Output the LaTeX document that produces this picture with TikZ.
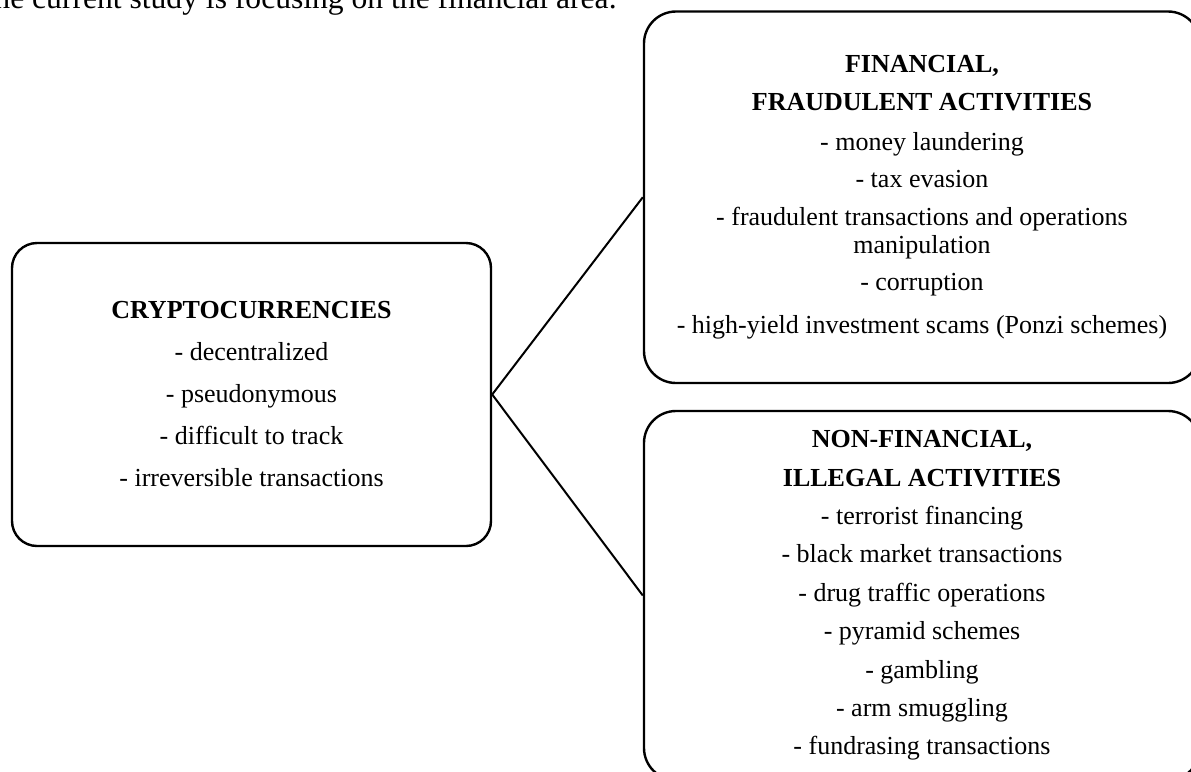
\documentclass[tikz,border=0pt]{standalone}
\usepackage{fontspec}
\setmainfont{Liberation Serif}
\usetikzlibrary{positioning}

\begin{document}
\begin{tikzpicture}[x=0.5pt,y=-0.5pt,
	kasten/.style={draw,line width=1.2pt,align=center,inner sep=0pt,
		font=\fontsize{13}{14}\selectfont},
	verbindung/.style={line width=1pt}]
	% Rahmen
	\useasboundingbox (0,0) rectangle (1191,772);
	\clip (0,0) rectangle (1191,772);
	% Text oben
	\node[anchor=base east,inner sep=0pt,font=\fontsize{15.8}{18}\selectfont] (intro) at (617,8)
		{he current study is focusing on the financial area.};
	% Kaesten
	\node[kasten,rounded corners=12.5pt,minimum width=239.5pt,minimum height=151.5pt] (crypto) at (251.5,394.5)
		{\textbf{CRYPTOCURRENCIES}\\[7pt]
		- decentralized\\[7pt]
		- pseudonymous\\[7pt]
		- difficult to track\\[7pt]
		- irreversible transactions};
	\node[kasten,rounded corners=16pt,minimum width=278pt,minimum height=185.75pt] (fin) at (922,197.25)
		{\textbf{FINANCIAL,}\\[5pt]
		\textbf{FRAUDULENT ACTIVITIES}\\[6pt]
		- money laundering\\[4.5pt]
		- tax evasion\\[5pt]
		- fraudulent transactions and operations\\
		manipulation\\[4.5pt]
		- corruption\\[7.5pt]
		- high-yield investment scams (Ponzi schemes)};
	\node[kasten,rounded corners=16pt,minimum width=278pt,minimum height=184.5pt] (nonfin) at (922,595.5)
		{\textbf{NON-FINANCIAL,}\\[5.2pt]
		\textbf{ILLEGAL ACTIVITIES}\\[5.2pt]
		- terrorist financing\\[5.2pt]
		- black market transactions\\[5.2pt]
		- drug traffic operations\\[5.2pt]
		- pyramid schemes\\[5.2pt]
		- gambling\\[5.2pt]
		- arm smuggling\\[5.2pt]
		- fundrasing transactions};
	% Verbindungen
	\draw[verbindung] (crypto.east) -- (fin.west);
	\draw[verbindung] (crypto.east) -- (nonfin.west);
\end{tikzpicture}
\end{document}
